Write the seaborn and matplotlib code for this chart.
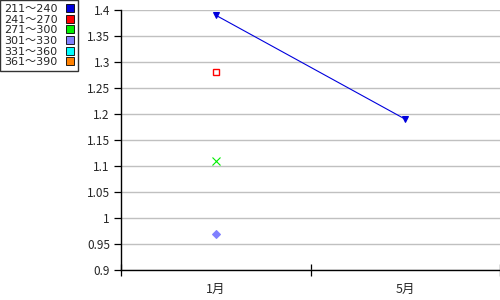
import matplotlib
matplotlib.use("Agg")
import matplotlib.pyplot as plt
import seaborn as sns
import numpy as np
import pandas as pd
from matplotlib.lines import Line2D
from matplotlib.font_manager import FontProperties

sns.set_style("white")
plt.rcParams['font.family'] = ['Noto Sans CJK JP', 'DejaVu Sans']

categories = ["1月", "5月"]
series_names = ["211～240", "241～270", "271～300", "301～330", "331～360", "361～390"]
s1 = [1.39, 1.19]
s2 = [1.28, np.nan]
s3 = [1.11, np.nan]
s4 = [0.97, np.nan]
s5 = [np.nan, np.nan]
s6 = [np.nan, np.nan]
yticks = [0.9, 0.95, 1.0, 1.05, 1.1, 1.15, 1.2, 1.25, 1.3, 1.35, 1.4]
ytick_labels = ["0.9", "0.95", "1", "1.05", "1.1", "1.15", "1.2", "1.25", "1.3", "1.35", "1.4"]

colors = ["#0000dd", "#ff0000", "#00ee00", "#8080ff", "#00ffff", "#ff8000"]
markers = ["v", "s", "x", "D", "o", "o"]
all_series = [s1, s2, s3, s4, s5, s6]

fig = plt.figure(figsize=(5, 3), dpi=100)
ax = fig.add_axes([121/500, 30/300, 379/500, 260/300])

xpos = np.arange(len(categories))
for name, vals, c, m in zip(series_names, all_series, colors, markers):
    df = pd.DataFrame({"x": xpos, "y": vals}).dropna()
    if df.empty:
        continue
    if m == "s":
        sns.lineplot(data=df, x="x", y="y", ax=ax, color=c, lw=0.8, marker=m,
                     markersize=3.8, markerfacecolor="white", markeredgecolor=c,
                     markeredgewidth=1.0)
    elif m == "x":
        sns.lineplot(data=df, x="x", y="y", ax=ax, color=c, lw=0.8, marker=m,
                     markersize=5.5, markeredgecolor=c, markeredgewidth=0.8)
    else:
        sns.lineplot(data=df, x="x", y="y", ax=ax, color=c, lw=0.8, marker=m,
                     markersize=3.8, markerfacecolor=c, markeredgecolor=c)

ax.set_xlim(-0.5, 1.5)
ax.set_ylim(0.9, 1.4)
ax.set_yticks(yticks)
ax.set_yticklabels(ytick_labels)
ax.yaxis.grid(True, color="#c0c0c0", lw=1)
ax.xaxis.grid(False)
ax.set_axisbelow(True)
ax.set_xticks(xpos)
ax.set_xticklabels(categories)
ax.set_xticks([-0.5, 0.5, 1.5], minor=True)
ax.tick_params(axis="x", which="major", bottom=True, length=0, pad=9, labelsize=9)
ax.tick_params(axis="x", which="minor", bottom=True, direction="inout", length=9,
               width=0.9, color="black")
ax.tick_params(axis="y", which="major", left=True, direction="out", length=5,
               width=0.9, color="black", labelsize=8.5, pad=3)
ax.set_xlabel("")
ax.set_ylabel("")
for side in ["top", "right"]:
    ax.spines[side].set_visible(False)
for side in ["left", "bottom"]:
    ax.spines[side].set_color("black")
    ax.spines[side].set_linewidth(1.0)

handles = [Line2D([], [], ls="none", marker="s", markersize=6, markerfacecolor=c,
                  markeredgecolor="black", markeredgewidth=0.6) for c in colors]
leg_font = FontProperties(family=['DejaVu Sans', 'Noto Sans CJK JP'], size=8)
leg = fig.legend(handles, series_names, loc="upper left", bbox_to_anchor=(0.0, 1.0),
                 bbox_transform=fig.transFigure, markerfirst=False, frameon=True,
                 fancybox=False, edgecolor="black", prop=leg_font, handlelength=0.8,
                 handletextpad=0.7, labelspacing=0.06, borderpad=0.35,
                 borderaxespad=0.0)
leg.get_frame().set_linewidth(1.0)

fig.savefig("out.png", dpi=100)
